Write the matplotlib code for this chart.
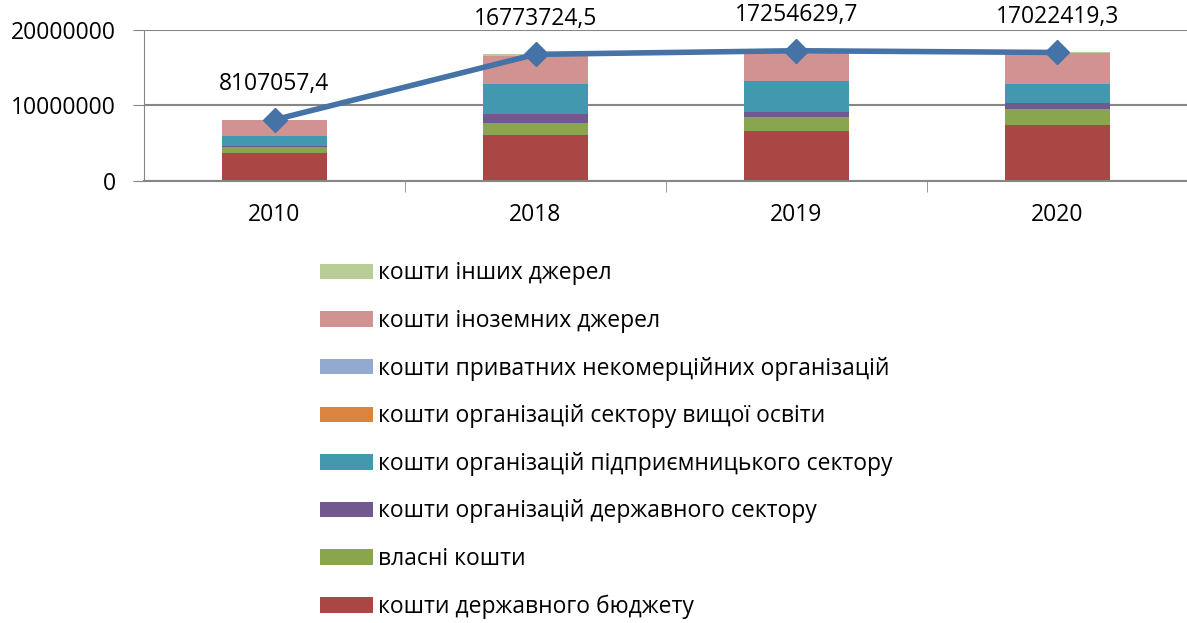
import matplotlib
matplotlib.use("Agg")
import matplotlib.pyplot as plt
from matplotlib.patches import Patch
import numpy as np

plt.rcParams["font.family"] = ["Open Sans", "DejaVu Sans"]

years = ["2010", "2018", "2019", "2020"]
totals = [8107057.4, 16773724.5, 17254629.7, 17022419.3]
total_labels = ["8107057,4", "16773724,5", "17254629,7", "17022419,3"]

# stacked components, bottom to top
state_budget = [3650000, 6100000, 6650000, 7400000]
own_funds = [850000, 1600000, 1780000, 2150000]
gov_sector = [200000, 1150000, 740000, 760000]
business_sector = [1270000, 3980000, 4080000, 2560000]
higher_edu = [15000, 30000, 30000, 30000]
private_nonprofit = [10000, 20000, 20000, 20000]
foreign = [2110000, 3690000, 3800000, 4000000]
other = [2000, 200000, 150000, 100000]

series = [
    ("кошти державного бюджету", state_budget, "#AA4643"),
    ("власні кошти", own_funds, "#89A54E"),
    ("кошти організацій державного сектору", gov_sector, "#71588F"),
    ("кошти організацій підприємницького сектору", business_sector, "#4198AF"),
    ("кошти організацій сектору вищої освіти", higher_edu, "#DB843D"),
    ("кошти приватних некомерційних організацій", private_nonprofit, "#93A9CF"),
    ("кошти іноземних джерел", foreign, "#D19392"),
    ("кошти інших джерел", other, "#B9CD96"),
]

fig = plt.figure(figsize=(11.87, 6.23), dpi=100)
ax = fig.add_axes([144 / 1187, 1 - 181 / 623, 1044 / 1187, 151 / 623])

x = np.arange(len(years))
bottom = np.zeros(len(years))
for name, vals, color in series:
    ax.bar(x, vals, width=0.4, bottom=bottom, color=color, zorder=2)
    bottom += np.array(vals)

ax.plot(x, totals, color="#4572A7", linewidth=4, marker="D", markersize=12, zorder=3)
for xi, v, lab in zip(x, totals, total_labels):
    ax.annotate(lab, (xi, v), xytext=(0, 17), textcoords="offset points",
                ha="center", va="bottom", fontsize=16.5, color="black")

ax.set_xlim(-0.5, 3.5)
ax.set_ylim(0, 20000000)
ax.set_yticks([0, 10000000, 20000000])
ax.set_yticklabels(["0", "10000000", "20000000"], fontsize=16.5)
ax.set_xticks(x)
ax.set_xticklabels(years, fontsize=16.5)
ax.tick_params(axis="x", length=0, pad=16)
ax.tick_params(axis="y", length=8, color="#868686", pad=12)
ax.set_xticks([0.5, 1.5, 2.5], minor=True)
ax.tick_params(axis="x", which="minor", length=8, color="#868686", direction="out")
ax.yaxis.grid(True, color="#868686", linewidth=1.5, zorder=0)
ax.set_axisbelow(True)
for side in ["top", "right"]:
    ax.spines[side].set_visible(False)
ax.spines["left"].set_color("#868686")
ax.spines["bottom"].set_color("#868686")
ax.spines["bottom"].set_linewidth(1.5)

handles = [Patch(facecolor=c, label=n) for n, _, c in reversed(series)]
fig.legend(handles=handles, loc="upper left", bbox_to_anchor=(309 / 1187, 1 - 250 / 623),
           frameon=False, fontsize=16.5, handlelength=2.3, handleheight=0.66,
           handletextpad=0.2, labelspacing=1.03, borderpad=0)

fig.savefig("out.png", dpi=100)
